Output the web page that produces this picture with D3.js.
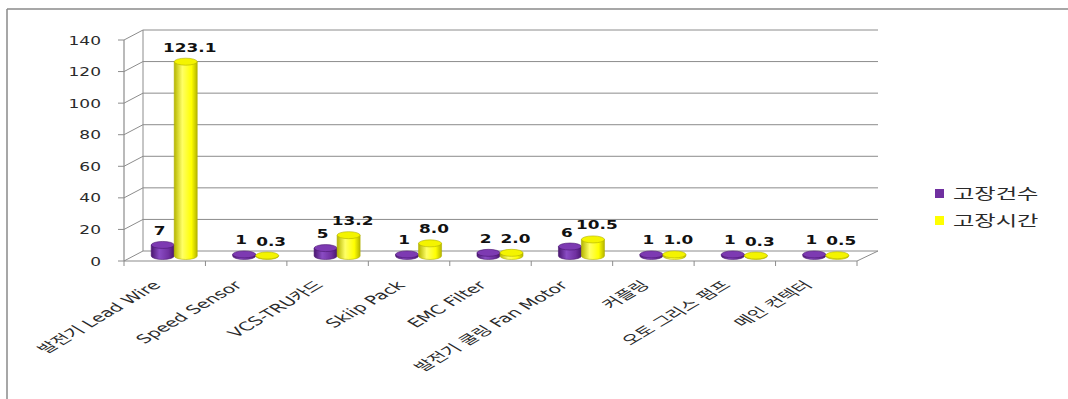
<!DOCTYPE html>
<html>
<head>
<meta charset="utf-8">
<script src="https://cdn.jsdelivr.net/npm/d3@7"></script>
<style>
  html, body { margin: 0; padding: 0; background: #fff; }
  svg { display: block; }
</style>
</head>
<body>
<svg id="chart" width="1068" height="399"></svg>
<script>
// data
var categories = ['발전기 Lead Wire', 'Speed Sensor', 'VCS-TRU카드', 'Skiip Pack', 'EMC Filter',
  '발전기 쿨링 Fan Motor', '커플링', '오토 그리스 펌프', '메인 컨텍터']
var failCount = [7, 1, 5, 1, 2, 6, 1, 1, 1]
var failHours = [123.1, 0.3, 13.2, 8.0, 2.0, 10.5, 1.0, 0.3, 0.5]
var seriesNames = ['고장건수', '고장시간']
var yTicks = [0, 20, 40, 60, 80, 100, 120, 140]

var purple = '#7030a0'
var yellow = '#ffff00'
var gridColor = '#8c8c8c'

//
// layout
//
var svg = d3.select('#chart')
var plotLeft = 124, plotRight = 857, plotTop = 40, plotBottom = 261
var depthX = 19, depthY = -10
var barW = 23

var x = d3.scaleBand().domain(categories).range([plotLeft, plotRight])
var y = d3.scaleLinear().domain([0, 140]).range([plotBottom, plotTop])

// outer frame (top and left only visible)
svg.append('line').attr('x1', 7).attr('y1', 9).attr('x2', 1068).attr('y2', 9)
  .attr('stroke', '#8a8a8a').attr('stroke-width', 1.5)
svg.append('line').attr('x1', 7).attr('y1', 9).attr('x2', 7).attr('y2', 399)
  .attr('stroke', '#8a8a8a').attr('stroke-width', 1.5)

// gradients for cylinders
var defs = svg.append('defs')
function cylGrad(id, dark, mid, light) {
  var g = defs.append('linearGradient').attr('id', id)
    .attr('x1', '0%').attr('x2', '100%').attr('y1', '0%').attr('y2', '0%')
  g.append('stop').attr('offset', '0%').attr('stop-color', dark)
  g.append('stop').attr('offset', '35%').attr('stop-color', light)
  g.append('stop').attr('offset', '75%').attr('stop-color', mid)
  g.append('stop').attr('offset', '100%').attr('stop-color', dark)
}
cylGrad('gPurple', '#4a1670', purple, '#8a4cc4')
cylGrad('gYellow', '#b5b500', yellow, '#ffff66')

// back wall gridlines + left wall diagonals
var grid = svg.append('g')
yTicks.forEach(function (t) {
  grid.append('line')
    .attr('x1', plotLeft + depthX).attr('x2', plotRight + depthX + 2)
    .attr('y1', y(t) + depthY).attr('y2', y(t) + depthY)
    .attr('stroke', gridColor).attr('stroke-width', 1)
  grid.append('line')
    .attr('x1', plotLeft).attr('x2', plotLeft + depthX)
    .attr('y1', y(t)).attr('y2', y(t) + depthY)
    .attr('stroke', gridColor).attr('stroke-width', 1)
})
// back wall left edge
grid.append('line').attr('x1', plotLeft + depthX).attr('x2', plotLeft + depthX)
  .attr('y1', y(140) + depthY).attr('y2', y(0) + depthY)
  .attr('stroke', gridColor)
// floor front + right edge
grid.append('line').attr('x1', plotLeft).attr('x2', plotRight)
  .attr('y1', y(0)).attr('y2', y(0)).attr('stroke', gridColor).attr('stroke-width', 1.2)
grid.append('line').attr('x1', plotRight).attr('x2', plotRight + depthX + 2)
  .attr('y1', y(0)).attr('y2', y(0) + depthY).attr('stroke', gridColor)

// y axis
var yAxis = svg.append('g')
yAxis.append('line').attr('x1', plotLeft).attr('x2', plotLeft).attr('y1', y(140)).attr('y2', y(0))
  .attr('stroke', gridColor).attr('stroke-width', 1.2)
yTicks.forEach(function (t) {
  yAxis.append('line').attr('x1', plotLeft - 6).attr('x2', plotLeft).attr('y1', y(t)).attr('y2', y(t))
    .attr('stroke', gridColor)
  yAxis.append('text')
    .attr('transform', 'translate(' + (plotLeft - 23) + ',' + (y(t) + 4.5) + ') scale(1.42,1)')
    .attr('text-anchor', 'end')
    .attr('font-family', 'DejaVu Sans').attr('font-size', 12)
    .attr('fill', '#2a2a2a').text(t)
})

// x ticks
for (var i = 0; i <= categories.length; i++) {
  var xx = plotLeft + i * x.step()
  svg.append('line').attr('x1', xx).attr('x2', xx).attr('y1', y(0)).attr('y2', y(0) + 5)
    .attr('stroke', gridColor)
}

// bars as cylinders
var ry = 3.5
function cylinder(g, cx, v, fill, topFill, edge) {
  var x0 = cx - barW / 2, x1 = cx + barW / 2
  var yb = y(0) + depthY / 2, yt = y(v) + depthY / 2
  g.append('path')
    .attr('d', 'M' + x0 + ',' + yt + ' L' + x0 + ',' + yb +
      ' A' + barW / 2 + ',' + ry + ' 0 0 0 ' + x1 + ',' + yb +
      ' L' + x1 + ',' + yt + ' Z')
    .attr('fill', fill).attr('stroke', edge).attr('stroke-width', 0.6)
  g.append('ellipse').attr('cx', cx).attr('cy', yt).attr('rx', barW / 2).attr('ry', ry)
    .attr('fill', topFill).attr('stroke', edge).attr('stroke-width', 0.6)
}

var bars = svg.append('g')
categories.forEach(function (c, i) {
  var center = x(c) + x.bandwidth() / 2 + depthX / 2
  var cp = center - barW / 2, cy = center + barW / 2
  cylinder(bars, cp, failCount[i], 'url(#gPurple)', '#7d3ab2', '#4a1670')
  cylinder(bars, cy, failHours[i], 'url(#gYellow)', '#f4f400', '#b0b000')

  bars.append('text')
    .attr('transform', 'translate(' + (cp - 3) + ',' + (y(failCount[i]) + depthY / 2 - 10) + ') scale(1.3,1)')
    .attr('text-anchor', 'middle').attr('font-family', 'DejaVu Sans').attr('font-weight', 'bold')
    .attr('font-size', 13).attr('fill', '#111').text(failCount[i])
  bars.append('text')
    .attr('transform', 'translate(' + (cy + 4) + ',' + (y(failHours[i]) + depthY / 2 - 10) + ') scale(1.3,1)')
    .attr('text-anchor', 'middle').attr('font-family', 'DejaVu Sans').attr('font-weight', 'bold')
    .attr('font-size', 13).attr('fill', '#111').text(d3.format('.1f')(failHours[i]))
})

// x labels, slanted and stretched
categories.forEach(function (c) {
  var cx = x(c) + x.bandwidth() / 2
  svg.append('text')
    .attr('transform', 'translate(' + (cx - 3) + ',' + (y(0) + 25) + ') scale(1.69,1) rotate(-45)')
    .attr('text-anchor', 'end')
    .attr('font-family', 'DejaVu Sans, Noto Sans CJK KR').attr('font-size', 12)
    .attr('fill', '#2a2a2a').text(c)
})

// legend
var legend = svg.append('g')
seriesNames.forEach(function (s, i) {
  var ly = 189 + i * 27
  legend.append('rect').attr('x', 935).attr('y', ly).attr('width', 9).attr('height', 9)
    .attr('fill', i === 0 ? purple : yellow)
  legend.append('text')
    .attr('transform', 'translate(953,' + (ly + 10) + ') scale(1.55,1)')
    .attr('font-family', 'Noto Sans CJK KR').attr('font-size', 15)
    .attr('fill', '#2a2a2a').text(s)
})
</script>
</body>
</html>
